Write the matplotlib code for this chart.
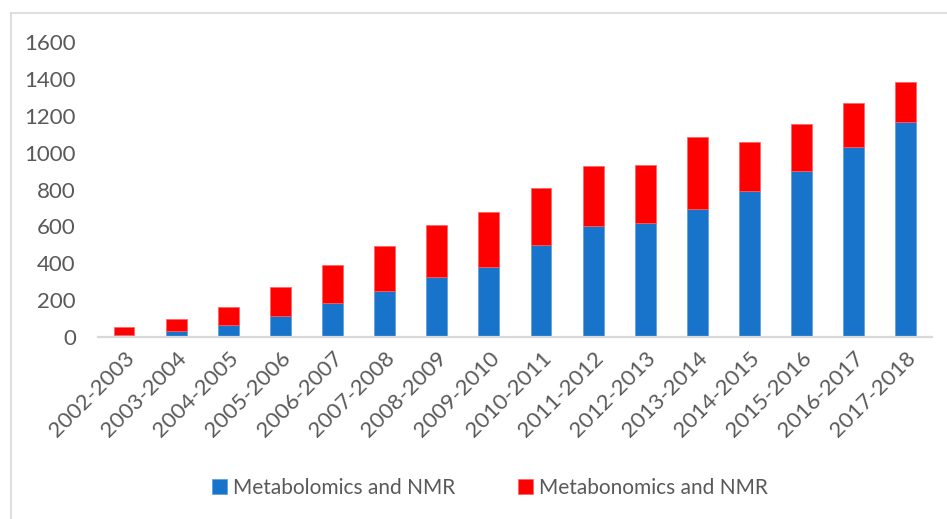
import numpy as np
import matplotlib.pyplot as plt
from matplotlib.lines import Line2D

plt.rcParams['font.family'] = ['Lato', 'DejaVu Sans']

years = ['2002-2003', '2003-2004', '2004-2005', '2005-2006', '2006-2007',
         '2007-2008', '2008-2009', '2009-2010', '2010-2011', '2011-2012',
         '2012-2013', '2013-2014', '2014-2015', '2015-2016', '2016-2017',
         '2017-2018']
metabolomics = [12, 33, 64, 116, 185, 248, 323, 380, 498, 603,
                621, 694, 792, 900, 1033, 1165]
metabonomics = [43, 63, 99, 154, 208, 245, 284, 298, 308, 326,
                314, 393, 268, 258, 235, 219]

blue = '#1874CA'
red = '#FF0000'
grey_txt = '#595959'
grey_line = '#D9D9D9'

fig = plt.figure(figsize=(9.47, 5.19), dpi=100)
ax = fig.add_axes([0.1035, 0.3507, 0.8805, 0.5683])

x = np.arange(len(years))
ax.bar(x, metabolomics, width=0.4, color=blue, edgecolor='#5A9BDA', linewidth=0.5,
       label='Metabolomics and NMR', zorder=2)
ax.bar(x, metabonomics, width=0.4, bottom=metabolomics, color=red,
       edgecolor='#FF6060', linewidth=0.5, label='Metabonomics and NMR', zorder=2)

ax.set_xlim(-0.5, len(years) - 0.5)
ax.set_ylim(0, 1600)
ax.set_yticks(np.arange(0, 1601, 200))
ax.set_xticks(x)
ax.set_xticklabels(years, rotation=45, ha='right', rotation_mode='anchor')

for s in ['top', 'right', 'left']:
    ax.spines[s].set_visible(False)
ax.spines['bottom'].set_color(grey_line)
ax.spines['bottom'].set_linewidth(1.6)
ax.spines['bottom'].set_zorder(3)

ax.tick_params(axis='y', length=0, pad=16, labelsize=16, labelcolor=grey_txt)
ax.tick_params(axis='x', length=0, pad=8, labelsize=16, labelcolor=grey_txt)

leg = fig.legend(loc='center', bbox_to_anchor=(490 / 947, 1 - 488 / 519), ncol=2,
                 frameon=False, fontsize=15, handlelength=0.7, handleheight=0.7,
                 handletextpad=0.3, columnspacing=3.0)
for t in leg.get_texts():
    t.set_color(grey_txt)

# chart area border
fig.add_artist(Line2D([0.0111, 1.0], [0.974, 0.974], color=grey_line, lw=1.2))
fig.add_artist(Line2D([0.0111, 0.0111], [0.0, 0.974], color=grey_line, lw=1.2))

fig.savefig('out.png', dpi=100)
